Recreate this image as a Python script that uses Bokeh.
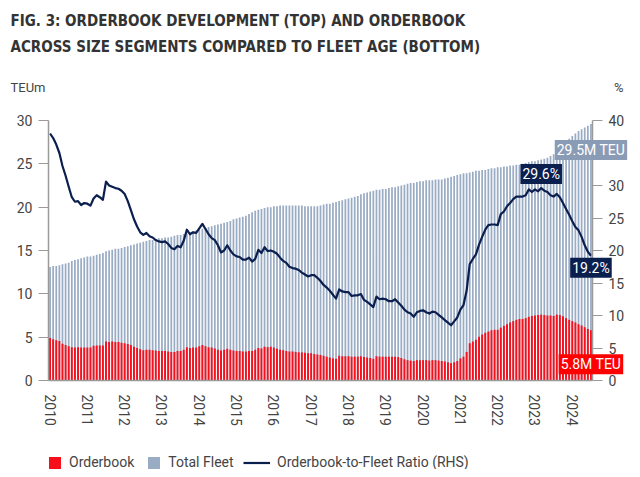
from bokeh.plotting import figure
from bokeh.models import Range1d, LinearAxis, FixedTicker, Label, Legend, LegendItem
from bokeh.embed import file_html
from bokeh.resources import INLINE

# ---------------- data (monthly, Jan 2010 - Jul 2024) ----------------
years = ["2010", "2011", "2012", "2013", "2014", "2015", "2016", "2017",
         "2018", "2019", "2020", "2021", "2022", "2023", "2024"]

# Total fleet, TEU million
fleet = [
    13.1, 13.2, 13.2, 13.3, 13.4, 13.5, 13.6, 13.8, 13.9, 14.0, 14.1, 14.2,   # 2010
    14.3, 14.3, 14.4, 14.5, 14.6, 14.7, 14.9, 15.0, 15.1, 15.2, 15.2, 15.3,   # 2011
    15.4, 15.5, 15.6, 15.7, 15.8, 15.9, 16.0, 16.1, 16.2, 16.2, 16.3, 16.4,   # 2012
    16.4, 16.5, 16.5, 16.6, 16.7, 16.8, 16.8, 16.9, 17.0, 17.1, 17.2, 17.3,   # 2013
    17.4, 17.5, 17.6, 17.7, 17.8, 17.9, 18.0, 18.1, 18.2, 18.3, 18.4, 18.6,   # 2014
    18.7, 18.8, 18.9, 19.0, 19.2, 19.4, 19.6, 19.7, 19.8, 19.9, 20.0, 20.0,   # 2015
    20.1, 20.1, 20.2, 20.2, 20.2, 20.2, 20.2, 20.2, 20.2, 20.2, 20.1, 20.1,   # 2016
    20.1, 20.1, 20.1, 20.2, 20.3, 20.4, 20.4, 20.5, 20.6, 20.7, 20.8, 20.9,   # 2017
    21.0, 21.1, 21.2, 21.3, 21.5, 21.6, 21.7, 21.8, 21.9, 22.0, 22.0, 22.1,   # 2018
    22.1, 22.2, 22.3, 22.3, 22.4, 22.5, 22.6, 22.7, 22.8, 22.8, 22.9, 23.0,   # 2019
    23.0, 23.1, 23.1, 23.1, 23.2, 23.2, 23.2, 23.3, 23.4, 23.5, 23.6, 23.7,   # 2020
    23.8, 23.9, 23.9, 24.0, 24.1, 24.2, 24.2, 24.3, 24.3, 24.4, 24.5, 24.5,   # 2021
    24.6, 24.6, 24.7, 24.7, 24.8, 24.8, 24.9, 24.9, 25.0, 25.1, 25.2, 25.3,   # 2022
    25.3, 25.4, 25.5, 25.6, 25.7, 25.9, 26.1, 26.4, 26.7, 27.1, 27.5, 27.9,   # 2023
    28.2, 28.5, 28.8, 29.0, 29.2, 29.4, 29.6,                                 # 2024
]

# Orderbook, TEU million
orderbook = [
    4.9, 4.75, 4.65, 4.55, 4.25, 4.1, 3.95, 3.85, 3.8, 3.85, 3.8, 3.8,        # 2010
    3.8, 3.8, 4.0, 4.05, 4.05, 4.05, 4.5, 4.45, 4.5, 4.45, 4.45, 4.35,        # 2011
    4.3, 4.2, 4.1, 3.9, 3.75, 3.6, 3.5, 3.55, 3.55, 3.5, 3.45, 3.4,           # 2012
    3.4, 3.4, 3.35, 3.3, 3.3, 3.4, 3.4, 3.55, 3.85, 3.75, 3.8, 3.8,           # 2013
    3.95, 4.1, 3.95, 3.85, 3.8, 3.7, 3.55, 3.45, 3.55, 3.65, 3.55, 3.45,      # 2014
    3.4, 3.4, 3.35, 3.35, 3.4, 3.4, 3.55, 3.75, 3.7, 3.9, 3.85, 3.9,          # 2015
    3.8, 3.65, 3.55, 3.5, 3.4, 3.35, 3.35, 3.3, 3.25, 3.25, 3.2, 3.15,        # 2016
    3.15, 3.05, 3.0, 2.95, 2.85, 2.75, 2.65, 2.55, 2.5, 2.85, 2.8, 2.8,       # 2017
    2.8, 2.75, 2.75, 2.75, 2.8, 2.7, 2.65, 2.6, 2.5, 2.8, 2.75, 2.75,         # 2018
    2.75, 2.75, 2.75, 2.75, 2.7, 2.6, 2.45, 2.35, 2.3, 2.25, 2.35, 2.35,      # 2019
    2.35, 2.35, 2.3, 2.35, 2.35, 2.3, 2.25, 2.2, 2.1, 2.0, 2.1, 2.25,         # 2020
    2.55, 2.75, 3.3, 4.3, 4.5, 4.7, 5.05, 5.3, 5.5, 5.65, 5.8, 5.85,          # 2021
    5.85, 6.1, 6.3, 6.5, 6.7, 6.85, 7.0, 7.1, 7.1, 7.2, 7.35, 7.45,           # 2022
    7.5, 7.55, 7.6, 7.55, 7.5, 7.5, 7.45, 7.6, 7.55, 7.4, 7.2, 7.0,           # 2023
    6.85, 6.7, 6.5, 6.35, 6.15, 5.95, 5.8,                                    # 2024
]

# Orderbook-to-fleet ratio, % (right-hand scale)
ratio = [
    38.0, 37.3, 36.3, 35.0, 33.0, 31.5, 29.8, 28.2, 27.5, 27.6, 27.0, 27.3,   # 2010
    27.2, 26.9, 28.0, 28.5, 28.2, 27.8, 30.6, 30.0, 29.8, 29.6, 29.5, 29.2,   # 2011
    28.7, 27.6, 26.2, 24.8, 23.7, 22.8, 22.4, 22.7, 22.2, 22.0, 21.6, 21.4,   # 2012
    21.3, 21.4, 21.0, 20.4, 20.2, 20.7, 20.5, 21.5, 23.2, 22.5, 22.8, 22.7,   # 2013
    23.4, 24.1, 23.3, 22.5, 21.9, 21.6, 20.8, 19.7, 20.0, 20.8, 20.0, 19.4,   # 2014
    19.1, 19.0, 18.6, 18.6, 18.9, 18.3, 18.7, 20.1, 19.6, 20.5, 19.9, 20.0,   # 2015
    19.8, 19.5, 18.9, 18.4, 18.1, 17.5, 17.3, 17.2, 17.0, 16.6, 16.3, 16.0,   # 2016
    16.2, 16.2, 15.8, 15.3, 14.7, 14.3, 13.8, 13.2, 12.6, 14.0, 13.7, 13.6,   # 2017
    13.6, 13.0, 13.1, 13.1, 13.3, 12.4, 12.1, 11.7, 11.3, 12.9, 12.5, 12.6,   # 2018
    12.5, 12.2, 12.2, 12.5, 12.0, 11.5, 10.9, 10.5, 10.3, 9.8, 10.5, 10.7,    # 2019
    10.8, 10.5, 10.3, 10.6, 10.5, 10.1, 9.7, 9.3, 8.9, 8.5, 9.1, 9.7,         # 2020
    10.9, 11.6, 13.8, 17.9, 18.7, 19.4, 20.9, 22.1, 23.2, 23.9, 24.0, 24.0,   # 2021
    23.9, 25.6, 26.0, 26.8, 27.3, 27.9, 28.3, 28.3, 28.3, 28.5, 29.4, 29.0,   # 2022
    29.4, 29.1, 29.6, 29.2, 29.0, 28.5, 28.3, 28.7, 28.2, 27.3, 26.4, 25.5,   # 2023
    24.5, 23.6, 23.1, 22.1, 20.8, 19.8, 19.2,                                 # 2024
]

fleet_label = "29.5M TEU"
orderbook_label = "5.8M TEU"
ratio_peak_label = "29.6%"
ratio_last_label = "19.2%"

# ---------------- layout constants (pixels inside the figure) ----------------
W, H = 632, 469
FR_L, FR_R = 48, 592          # left / right axis positions
FR_T, FR_B = 120, 380         # y of top (30 / 40) and bottom (0) of the axes
x = list(range(len(fleet)))
n = len(x)
peak_i = max(range(n - 60, n), key=lambda i: ratio[i])

px_per_m = (FR_R - FR_L) / n
xs = -0.5 - FR_L / px_per_m
xe = (n - 0.5) + (W - FR_R) / px_per_m
L_MAX, R_MAX = 30, 40
ppl = (FR_B - FR_T) / L_MAX
ppr = (FR_B - FR_T) / R_MAX

FLEET_C = "#9aabc4"
RED_C = "#f5101c"
NAVY_C = "#0b1f4f"
AXIS_C = "#9a9a9a"
TXT_C = "#444444"
TICK_FONT = "Roboto"

p = figure(width=W, height=H, output_backend="svg", toolbar_location=None,
           x_range=Range1d(xs, xe),
           y_range=Range1d(-(H - FR_B) / ppl, L_MAX + FR_T / ppl),
           min_border=0, outline_line_color=None,
           background_fill_color="white", border_fill_color="white")
p.extra_y_ranges = {"ratio": Range1d(-(H - FR_B) / ppr, R_MAX + FR_T / ppr)}
p.xgrid.visible = False
p.ygrid.visible = False

fleet_r = p.vbar(x=x, top=fleet, width=0.56, fill_color=FLEET_C, line_color=None)
ob_r = p.vbar(x=x, top=orderbook, width=0.62, fill_color=RED_C, line_color=None)
line_r = p.line(x=x, y=ratio, y_range_name="ratio", line_color=NAVY_C, line_width=2.2,
                line_join="round")

def style_axis(ax):
    ax.axis_line_color = AXIS_C
    ax.axis_line_width = 1.5
    ax.major_tick_line_color = AXIS_C
    ax.major_tick_line_width = 1.2
    ax.minor_tick_line_color = None
    ax.major_label_text_font = TICK_FONT
    ax.major_label_text_font_size = "14px"
    ax.major_label_text_color = TXT_C

yax = p.yaxis[0]
yax.ticker = FixedTicker(ticks=[0, 5, 10, 15, 20, 25, 30])
yax.bounds = (0, L_MAX)
yax.fixed_location = -0.5
style_axis(yax)
yax.major_tick_out = 10
yax.major_tick_in = 0
yax.major_label_standoff = 6

rax = LinearAxis(y_range_name="ratio",
                 ticker=FixedTicker(ticks=[0, 5, 10, 15, 20, 25, 30, 35, 40]))
rax.bounds = (0, R_MAX)
rax.fixed_location = n - 0.5
style_axis(rax)
rax.major_tick_out = 10
rax.major_tick_in = 0
rax.major_label_standoff = 6
p.add_layout(rax, "right")

xax = p.xaxis[0]
year_ticks = [12 * i for i in range(len(years))]
xax.ticker = FixedTicker(ticks=year_ticks)
xax.major_label_overrides = {t: y for t, y in zip(year_ticks, years)}
xax.bounds = (-0.5, n - 0.5)
xax.fixed_location = 0
style_axis(xax)
xax.major_tick_out = 0
xax.major_tick_in = 0
xax.major_label_orientation = "vertical"
xax.major_label_standoff = 14

# ---------------- value tags ----------------
tag_font = "Roboto"
tag = dict(text_align="center", text_baseline="middle", text_color="white",
           text_font=tag_font, text_font_size="14px", padding=2)
p.add_layout(Label(x=n - 1, y=fleet[-1], y_offset=-26, text=fleet_label,
                   background_fill_color="#8a9bb5", **tag))
p.add_layout(Label(x=n - 1, y=orderbook[-1], y_offset=-34, text=orderbook_label,
                   background_fill_color="#ff0000", **tag))
p.add_layout(Label(x=peak_i, y=ratio[peak_i], y_range_name="ratio", y_offset=14,
                   text=ratio_peak_label, background_fill_color=NAVY_C, **tag))
p.add_layout(Label(x=n - 1, y=ratio[-1], y_range_name="ratio", y_offset=-12,
                   text=ratio_last_label, background_fill_color=NAVY_C, **tag))

# ---------------- title & unit labels (screen px from figure bottom-left) ----------------
title_font = "'DejaVu Sans Condensed', 'Liberation Sans Narrow', Roboto, sans-serif"
ttl = dict(x_units="screen", y_units="screen", text_font=title_font,
           text_font_style="bold", text_font_size="15px", text_color="#333333",
           text_baseline="middle")
p.add_layout(Label(x=10, y=H - 20, text="FIG. 3: ORDERBOOK DEVELOPMENT (TOP) AND ORDERBOOK", **ttl))
p.add_layout(Label(x=10, y=H - 46, text="ACROSS SIZE SEGMENTS COMPARED TO FLEET AGE (BOTTOM)", **ttl))
unit = dict(x_units="screen", y_units="screen", text_font=TICK_FONT, text_font_size="13px",
            text_color=TXT_C, text_baseline="middle")
p.add_layout(Label(x=10, y=H - 87, text="TEUm", **unit))
p.add_layout(Label(x=W - 9, y=H - 87, text="%", text_align="right", **unit))

# ---------------- legends ----------------
leg_common = dict(orientation="horizontal", padding=0, margin=0, border_line_color=None,
                  background_fill_alpha=0, label_text_font=TICK_FONT,
                  label_text_font_size="14px", label_text_color=TXT_C,
                  label_standoff=7, spacing=12, glyph_height=15, label_height=15)
leg1 = Legend(items=[LegendItem(label="Orderbook", renderers=[ob_r]),
                     LegendItem(label="Total Fleet", renderers=[fleet_r])],
              location=(FR_L - 1, -1), glyph_width=15, **leg_common)
leg2 = Legend(items=[LegendItem(label="Orderbook-to-Fleet Ratio (RHS)", renderers=[line_r])],
              location=(FR_L + 195, -1), glyph_width=27, **leg_common)
p.add_layout(leg1)
p.add_layout(leg2)

open("out.html", "w").write(file_html(p, INLINE))
